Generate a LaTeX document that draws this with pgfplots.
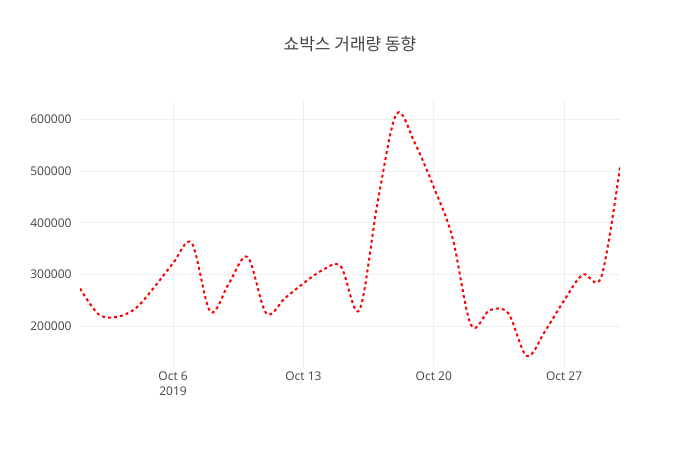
\documentclass[border=0pt]{standalone}
\usepackage{fontspec}
\setmainfont{Open Sans}
\newfontfamily\kr{Noto Sans CJK KR}
\usepackage{pgfplots}
\pgfplotsset{compat=1.18}
\definecolor{txt}{HTML}{444444}
\definecolor{grd}{HTML}{EEEEEE}

\begin{document}
\begin{tikzpicture}[x=1bp,y=1bp]
\useasboundingbox (0,0) rectangle (700,450);
\node[text=txt,font=\kr\fontsize{17bp}{20bp}\selectfont] at (350,406) {쇼박스 거래량 동향};
\begin{axis}[
  at={(80bp,83bp)}, anchor=south west,
  scale only axis,
  width=540bp, height=266bp,
  xmin=1, xmax=30,
  ymin=121000, ymax=636000,
  axis line style={draw=none},
  tick style={draw=none},
  xtick={6,13,20,27},
  xticklabels={{Oct 6\\2019},{Oct 13},{Oct 20},{Oct 27}},
  xticklabel style={align=center,text=txt,font=\fontsize{12bp}{15bp}\selectfont,yshift=-1bp},
  ytick={200000,300000,400000,500000,600000},
  yticklabel style={text=txt,font=\fontsize{12bp}{14bp}\selectfont,xshift=-5bp},
  /pgf/number format/assume math mode=true,
  /pgf/number format/fixed,
  /pgf/number format/1000 sep={},
  scaled y ticks=false,
  grid=major,
  major grid style={grd,line width=0.8bp},
]
\addplot[red, line width=2bp, dash pattern=on 3bp off 3bp, smooth, tension=0.55] coordinates {
(1,273000) (2,223000) (3,218000) (4,235000) (5,276000) (6,322000)
(7,361000) (8,228000) (9,283000) (10,334000) (11,225000) (12,254000)
(13,283000) (14,308000) (15,316000) (16,231000) (17,443000) (18,611000)
(19,553000) (20,469000) (21,372000) (22,202000) (23,231000) (24,225000)
(25,142000) (26,192000) (27,250000) (28,300000) (29,296000) (30,508000)
};
\end{axis}
\end{tikzpicture}
\end{document}
